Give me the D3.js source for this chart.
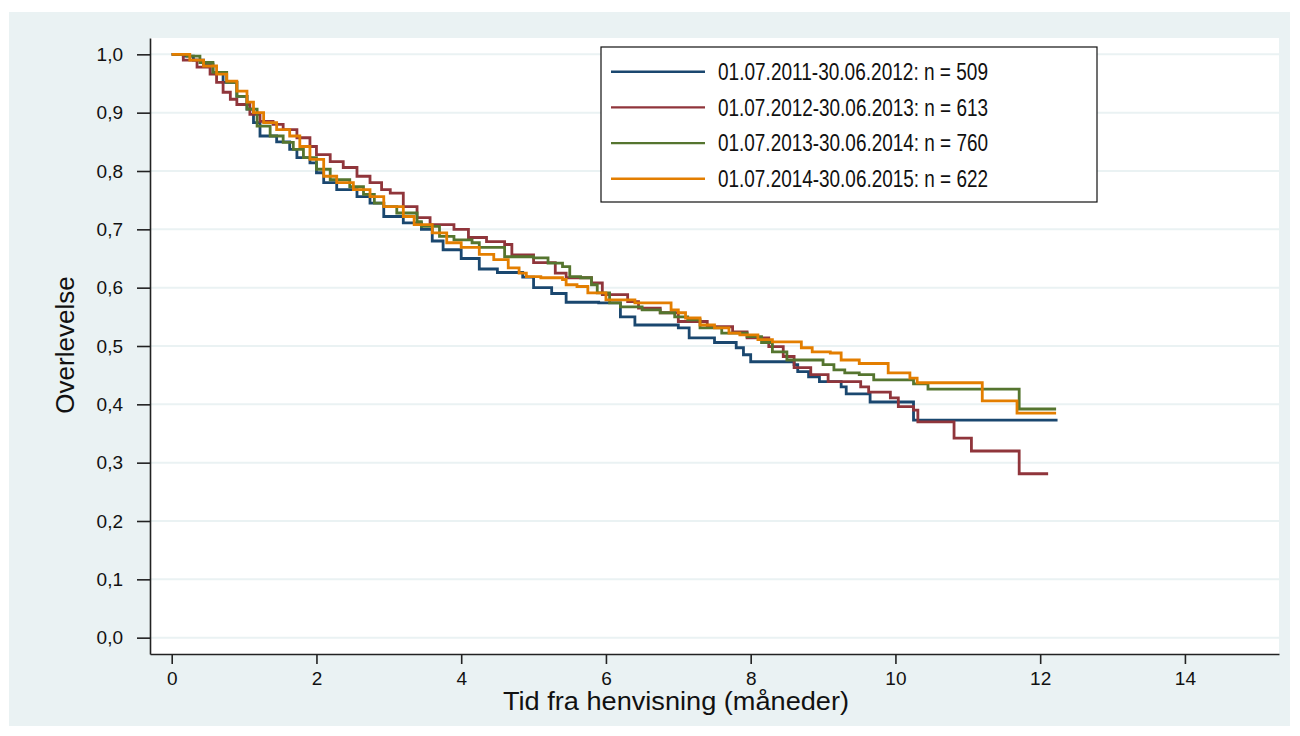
<!DOCTYPE html>
<html>
<head>
<meta charset="utf-8">
<script src="https://cdn.jsdelivr.net/npm/d3@7"></script>
<style>
  body { margin: 0; background: #ffffff; }
  svg { display: block; }
</style>
</head>
<body>
<div id="chart"></div>
<script>
// Kaplan-Meier: [tid (måneder), overlevelse]
var periode1 = [[0,1.0],[0.16,0.997],[0.3,0.99],[0.44,0.983],[0.57,0.969],[0.71,0.952],[0.9,0.928],[1.04,0.906],[1.13,0.883],[1.22,0.86],[1.45,0.85],[1.63,0.837],[1.73,0.823],[1.91,0.814],[2.0,0.797],[2.1,0.78],[2.28,0.768],[2.56,0.756],[2.74,0.745],[2.93,0.722],[3.2,0.711],[3.45,0.70],[3.6,0.68],[3.75,0.665],[4.0,0.65],[4.25,0.632],[4.5,0.626],[4.85,0.618],[5.0,0.60],[5.25,0.59],[5.45,0.575],[5.9,0.574],[6.2,0.55],[6.4,0.536],[7.0,0.531],[7.15,0.514],[7.5,0.506],[7.8,0.497],[7.9,0.485],[8.0,0.473],[8.6,0.468],[8.65,0.456],[8.8,0.447],[8.95,0.439],[9.25,0.43],[9.32,0.418],[9.65,0.404],[10.25,0.373],[12.24,0.373]];
var periode2 = [[0,1.0],[0.16,0.99],[0.35,0.978],[0.53,0.966],[0.62,0.952],[0.71,0.935],[0.81,0.923],[0.9,0.914],[1.08,0.897],[1.22,0.885],[1.4,0.88],[1.54,0.871],[1.73,0.857],[1.91,0.842],[2.0,0.828],[2.19,0.816],[2.37,0.806],[2.56,0.791],[2.74,0.78],[2.9,0.768],[3.02,0.762],[3.2,0.739],[3.39,0.72],[3.57,0.708],[3.9,0.70],[4.1,0.686],[4.35,0.679],[4.6,0.674],[4.7,0.656],[5.0,0.643],[5.3,0.625],[5.45,0.617],[5.8,0.608],[5.95,0.588],[6.3,0.576],[6.45,0.565],[6.75,0.557],[7.0,0.542],[7.4,0.533],[7.75,0.524],[7.95,0.514],[8.25,0.499],[8.45,0.482],[8.6,0.463],[8.83,0.451],[9.07,0.439],[9.52,0.43],[9.63,0.421],[9.93,0.411],[10.04,0.396],[10.25,0.39],[10.31,0.37],[10.81,0.342],[11.05,0.32],[11.71,0.281],[12.11,0.281]];
var periode3 = [[0,1.0],[0.21,0.997],[0.39,0.986],[0.57,0.969],[0.76,0.952],[0.9,0.928],[1.04,0.906],[1.18,0.877],[1.36,0.86],[1.54,0.849],[1.68,0.837],[1.82,0.823],[2.0,0.803],[2.19,0.785],[2.46,0.773],[2.65,0.76],[2.8,0.745],[2.93,0.739],[3.11,0.728],[3.39,0.713],[3.45,0.705],[3.7,0.688],[3.9,0.682],[4.15,0.677],[4.25,0.669],[4.6,0.653],[5.0,0.651],[5.2,0.642],[5.4,0.636],[5.5,0.619],[5.65,0.617],[5.8,0.605],[5.88,0.591],[6.05,0.574],[6.2,0.567],[6.5,0.562],[6.75,0.557],[6.95,0.55],[7.13,0.545],[7.3,0.531],[7.6,0.522],[7.95,0.516],[8.15,0.506],[8.3,0.49],[8.5,0.476],[9.0,0.468],[9.15,0.459],[9.3,0.454],[9.5,0.451],[9.7,0.442],[10.25,0.435],[10.45,0.426],[11.71,0.392],[12.22,0.392]];
var periode4 = [[0,1.0],[0.25,0.99],[0.44,0.98],[0.62,0.966],[0.76,0.954],[0.9,0.937],[1.04,0.918],[1.13,0.9],[1.27,0.883],[1.45,0.871],[1.63,0.86],[1.77,0.842],[1.91,0.82],[2.1,0.791],[2.28,0.78],[2.51,0.768],[2.74,0.756],[2.93,0.739],[3.2,0.722],[3.35,0.708],[3.6,0.694],[3.8,0.677],[4.0,0.669],[4.25,0.657],[4.45,0.648],[4.65,0.634],[4.8,0.625],[4.9,0.619],[5.1,0.617],[5.4,0.614],[5.45,0.605],[5.6,0.602],[5.75,0.591],[6.0,0.579],[6.4,0.574],[6.9,0.562],[7.0,0.557],[7.1,0.548],[7.3,0.536],[7.5,0.531],[7.7,0.522],[7.85,0.519],[8.1,0.511],[8.3,0.507],[8.7,0.497],[8.85,0.49],[9.1,0.488],[9.25,0.476],[9.5,0.47],[9.9,0.454],[10.2,0.445],[10.3,0.437],[11.2,0.406],[11.68,0.385],[12.22,0.385]];

var labels = ["01.07.2011-30.06.2012: n = 509", "01.07.2012-30.06.2013: n = 613",
              "01.07.2013-30.06.2014: n = 760", "01.07.2014-30.06.2015: n = 622"];
var xTicks = [0, 2, 4, 6, 8, 10, 12, 14];
var yTicks = [0, 0.1, 0.2, 0.3, 0.4, 0.5, 0.6, 0.7, 0.8, 0.9, 1.0];
var colors = ["#1a476f", "#90353b", "#55752f", "#e37e00"];

function main(){
    var series = [periode1, periode2, periode3, periode4];
    var font = "'Liberation Sans', Arial, sans-serif";

    var svg = d3.select("#chart").append("svg")
        .attr("width", 1300)
        .attr("height", 736);

    // graph region background
    svg.append("rect")
        .attr("x", 9).attr("y", 12)
        .attr("width", 1281).attr("height", 714)
        .attr("fill", "#eaf2f3");

    var left = 150, right = 1279, top = 38, bottom = 654;

    svg.append("rect")
        .attr("x", left).attr("y", top)
        .attr("width", right - left).attr("height", bottom - top)
        .attr("fill", "#ffffff");

    var xScale = d3.scaleLinear().domain([-0.3, 15.3]).range([left, right]);
    var yScale = d3.scaleLinear().domain([-0.028, 1.028]).range([bottom, top]);

    // horizontal grid
    svg.append("g").selectAll("line")
        .data(yTicks)
        .enter().append("line")
        .attr("x1", left).attr("x2", right)
        .attr("y1", function(d) { return yScale(d); })
        .attr("y2", function(d) { return yScale(d); })
        .attr("stroke", "#eaf2f3")
        .attr("stroke-width", 2);

    // curves
    var line = d3.line()
        .x(function(d) { return xScale(d[0]); })
        .y(function(d) { return yScale(d[1]); })
        .curve(d3.curveStepAfter);

    svg.append("g").selectAll("path")
        .data(series)
        .enter().append("path")
        .attr("d", line)
        .attr("fill", "none")
        .attr("stroke", function(d, i) { return colors[i]; })
        .attr("stroke-width", 2.8)
        .attr("stroke-linejoin", "miter");

    // Y-axis
    var yAxis = svg.append("g")
        .attr("transform", "translate(" + left + ",0)")
        .call(d3.axisLeft(yScale).tickValues(yTicks).tickSize(13).tickSizeOuter(0)
            .tickPadding(14)
            .tickFormat(function(d) { return d3.format(".1f")(d).replace(".", ","); }));

    // X-axis
    var xAxis = svg.append("g")
        .attr("transform", "translate(0," + bottom + ")")
        .call(d3.axisBottom(xScale).tickValues(xTicks).tickSize(10).tickSizeOuter(0)
            .tickPadding(8));

    [yAxis, xAxis].forEach(function(ax) {
        ax.select(".domain").attr("stroke", "#222").attr("stroke-width", 1.6);
        ax.selectAll(".tick line").attr("stroke", "#222").attr("stroke-width", 1.6);
        ax.selectAll(".tick text")
            .attr("fill", "#111")
            .style("font-family", font)
            .style("font-size", "19px");
    });

    // axis titles
    svg.append("text")
        .attr("transform", "translate(74,345) rotate(-90)")
        .attr("text-anchor", "middle")
        .style("font-family", font)
        .style("font-size", "26px")
        .attr("fill", "#111")
        .text("Overlevelse");

    svg.append("text")
        .attr("x", 676).attr("y", 710)
        .attr("text-anchor", "middle")
        .style("font-family", font)
        .style("font-size", "25px")
        .attr("fill", "#111")
        .attr("textLength", 346)
        .attr("lengthAdjust", "spacingAndGlyphs")
        .text("Tid fra henvisning (måneder)");

    // legend
    var legend = svg.append("g");
    legend.append("rect")
        .attr("x", 601).attr("y", 47)
        .attr("width", 496).attr("height", 155)
        .attr("fill", "#ffffff")
        .attr("stroke", "#111")
        .attr("stroke-width", 1.2);

    var rows = legend.selectAll(".row")
        .data(labels)
        .enter().append("g")
        .attr("class", "row")
        .attr("transform", function(d, i) { return "translate(0," + (71.7 + i * 35.7) + ")"; });

    rows.append("line")
        .attr("x1", 611).attr("x2", 705)
        .attr("stroke", function(d, i) { return colors[i]; })
        .attr("stroke-width", 2.4);

    rows.append("text")
        .attr("x", 718)
        .attr("dy", "0.36em")
        .style("font-family", "'Liberation Sans Narrow', 'Arial Narrow', " + font)
        .style("font-size", "23px")
        .attr("fill", "#111")
        .attr("textLength", 270)
        .attr("lengthAdjust", "spacingAndGlyphs")
        .text(function(d) { return d; });
}

main()
</script>
</body>
</html>
